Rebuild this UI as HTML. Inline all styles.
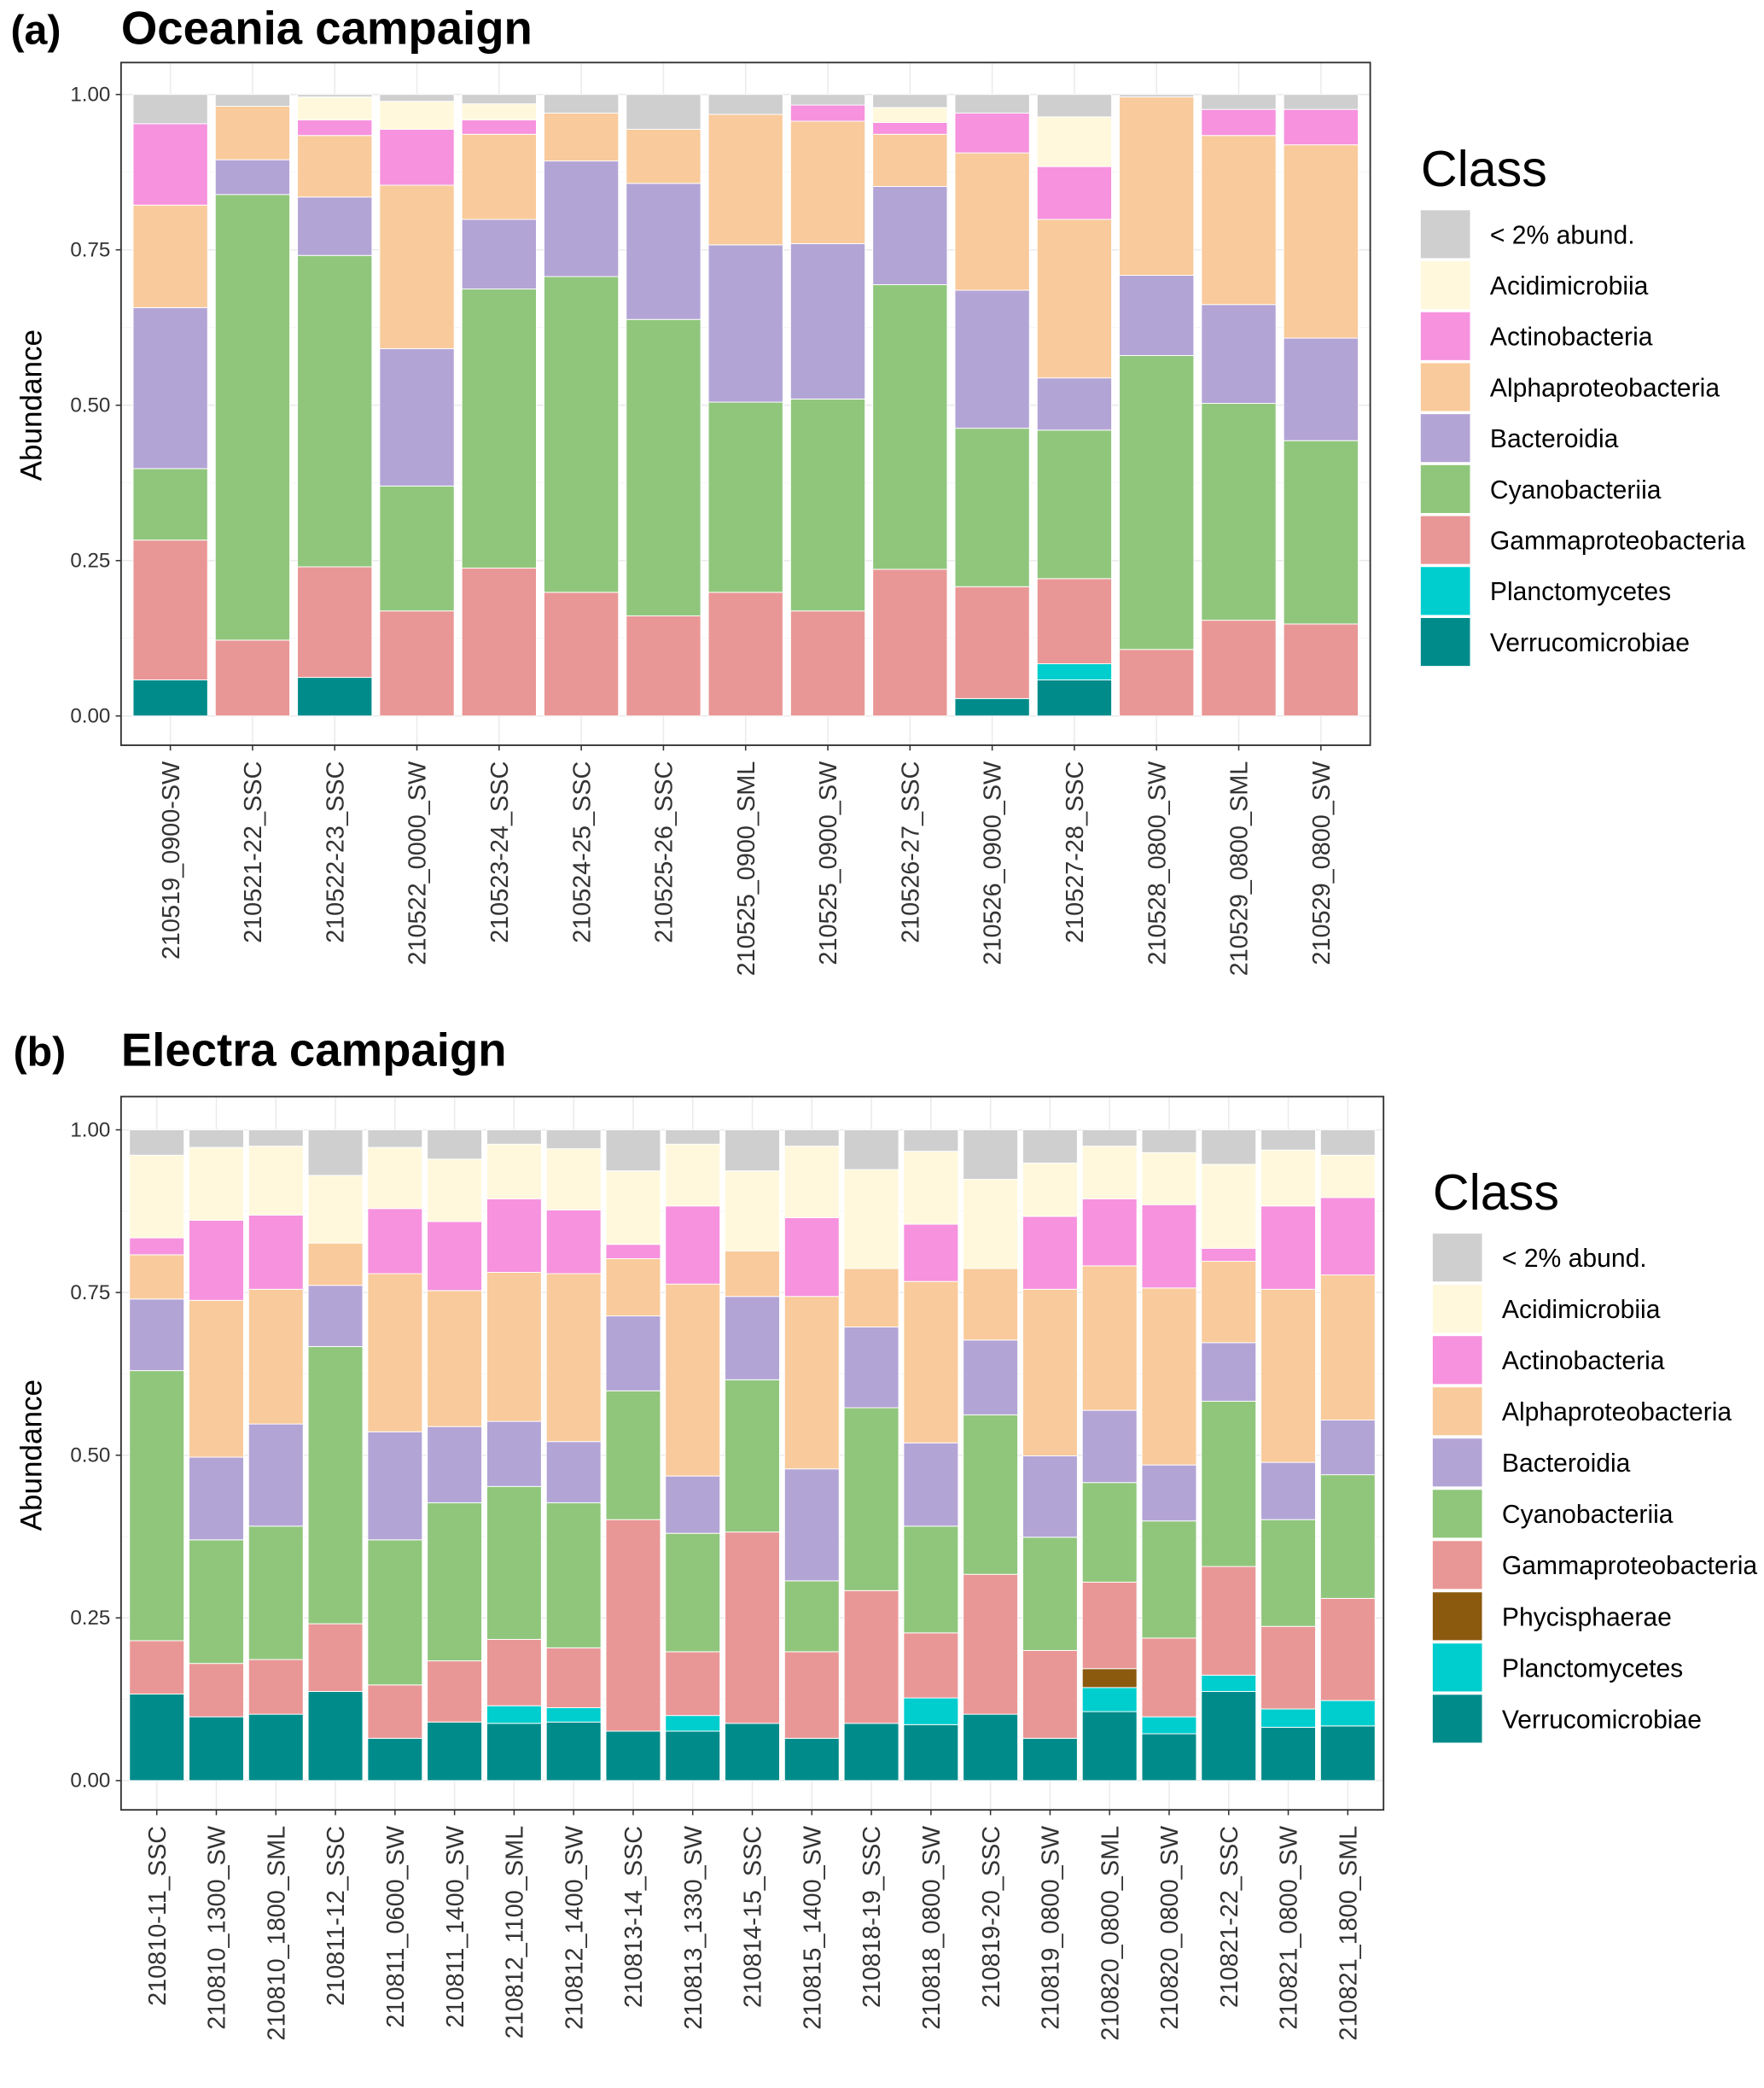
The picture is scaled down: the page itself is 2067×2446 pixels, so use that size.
<!DOCTYPE html>
<html><head><meta charset="utf-8"><style>
html,body{margin:0;padding:0;background:#fff}
svg{display:block}
text{font-family:"Liberation Sans",Arial,sans-serif}
</style></head><body>
<svg id="chart" width="2067" height="2446" viewBox="0 0 1326 1569" preserveAspectRatio="none" xmlns="http://www.w3.org/2000/svg">
<rect x="0" y="0" width="1326" height="1569" fill="#fff"/>
<text x="8" y="33" font-size="31" font-weight="bold">(a)</text>
<text x="91" y="33" font-size="35" font-weight="bold">Oceania campaign</text>
<text x="10" y="801" font-size="31" font-weight="bold">(b)</text>
<text x="91" y="801" font-size="35" font-weight="bold">Electra campaign</text>
</svg>
<script>
// ---------- Panel A data ----------
const catsA=["210519_0900-SW","210521-22_SSC","210522-23_SSC","210522_0000_SW","210523-24_SSC","210524-25_SSC","210525-26_SSC","210525_0900_SML","210525_0900_SW","210526-27_SSC","210526_0900_SW","210527-28_SSC","210528_0800_SW","210529_0800_SML","210529_0800_SW"];
const verrA=[.058,0,.062,0,0,0,0,0,0,0,.028,.058,0,0,0];
const planA=[0,0,0,0,0,0,0,0,0,0,0,.026,0,0,0];
const gammaA=[.225,.122,.178,.169,.238,.199,.161,.199,.169,.236,.18,.137,.107,.154,.148];
const cyanoA=[.115,.717,.501,.201,.449,.508,.477,.306,.341,.458,.255,.239,.473,.349,.295];
const bactA=[.259,.056,.094,.221,.112,.186,.219,.253,.25,.158,.222,.084,.129,.159,.165];
const alphaA=[.165,.086,.099,.263,.137,.077,.087,.21,.197,.084,.221,.255,.287,.272,.311];
const actA=[.131,0,.025,.09,.023,0,0,0,.026,.019,.064,.085,0,.042,.057];
const acidA=[0,0,.037,.045,.026,0,0,0,0,.024,0,.08,0,0,0];
const restA=[.047,.019,.004,.011,.015,.03,.056,.032,.017,.021,.03,.036,.004,.024,.024];
// ---------- Panel B data ----------
const catsB=["210810-11_SSC","210810_1300_SW","210810_1800_SML","210811-12_SSC","210811_0600_SW","210811_1400_SW","210812_1100_SML","210812_1400_SW","210813-14_SSC","210813_1330_SW","210814-15_SSC","210815_1400_SW","210818-19_SSC","210818_0800_SW","210819-20_SSC","210819_0800_SW","210820_0800_SML","210820_0800_SW","210821-22_SSC","210821_0800_SW","210821_1800_SML"];
const verrB=[.133,.098,.102,.137,.065,.09,.088,.09,.076,.076,.088,.065,.088,.086,.102,.065,.106,.072,.137,.082,.084];
const planB=[0,0,0,0,0,0,.027,.022,0,.024,0,0,0,.041,0,0,.037,.026,.025,.028,.039];
const phycB=[0,0,0,0,0,0,0,0,0,0,0,0,0,0,0,0,.029,0,0,0,0];
const gammaB=[.082,.082,.084,.104,.082,.094,.102,.092,.325,.098,.294,.133,.204,.1,.215,.135,.133,.121,.167,.127,.157];
const cyanoB=[.415,.19,.205,.426,.223,.243,.235,.223,.198,.182,.234,.109,.281,.164,.245,.174,.153,.18,.254,.164,.19];
const bactB=[.11,.127,.157,.094,.166,.117,.1,.094,.115,.088,.128,.172,.124,.128,.115,.125,.111,.086,.09,.088,.084];
const alphaB=[.068,.241,.207,.065,.243,.209,.229,.258,.088,.295,.07,.265,.09,.248,.11,.256,.222,.272,.125,.266,.223];
const actB=[.026,.123,.114,0,.1,.106,.113,.098,.022,.12,0,.121,0,.088,0,.112,.103,.128,.02,.128,.119];
const acidB=[.127,.112,.106,.104,.094,.096,.084,.094,.113,.095,.123,.11,.152,.112,.137,.082,.081,.08,.129,.086,.065];
const restB=[.039,.027,.025,.07,.027,.045,.022,.029,.063,.022,.063,.025,.061,.033,.076,.051,.025,.035,.053,.031,.039];

const COL={rest:"#cfcfcf",acid:"#fff8dc",act:"#f692de",alpha:"#f9ca9b",bact:"#b3a4d6",cyano:"#90c67c",gamma:"#e99796",phyc:"#8b5a0f",plan:"#00cdcd",verr:"#008b8b"};
const NS="http://www.w3.org/2000/svg";
const svg=document.getElementById('chart');
function el(tag,attrs,parent){const e=document.createElementNS(NS,tag);for(const k in attrs)e.setAttribute(k,attrs[k]);(parent||svg).appendChild(e);return e;}

function panel(p){
  const g=el('g',{});
  
  
  const y=v=>p.y0-(p.y0-p.y1)*v;
  const n=p.cats.length;
  const step=(p.px1-p.px0)/(n+0.2);
  const x=i=>p.px0+step*(i+0.6);
  [0,.25,.5,.75,1].forEach(t=>{
    const l=el('line',{x1:p.px0,x2:p.px1,y1:y(t),y2:y(t),stroke:"#ebebeb","stroke-width":1},g);
    
    
  });
  [.125,.375,.625,.875].forEach(t=>{el('line',{x1:p.px0,x2:p.px1,y1:y(t),y2:y(t),stroke:"#f4f4f4","stroke-width":0.6},g);});
  for(let i=0;i<n;i++){el('line',{x1:x(i),x2:x(i),y1:p.py0,y2:p.py1,stroke:"#ebebeb","stroke-width":1},g);}
  for(let i=0;i<n;i++){
    let cum=0;
    const bg=el('g',{},g);
    
    
    p.series.forEach(s=>{
      const v=s.vals[i];
      if(v>0){
        const r=el('rect',{x:x(i)-p.bw/2,width:p.bw,y:y(cum+v),height:y(cum)-y(cum+v),fill:COL[s.key],stroke:"#fff","stroke-width":0.6},bg);
        
        
      }
      cum+=v;
    });
  }
  const fr=el('rect',{x:p.px0,y:p.py0,width:p.px1-p.px0,height:p.py1-p.py0,fill:"none",stroke:"#333","stroke-width":1.2},g);
  
  
  ["0.00","0.25","0.50","0.75","1.00"].forEach((lab,k)=>{
    const t=k*0.25;
    el('line',{x1:p.px0-4,x2:p.px0,y1:y(t),y2:y(t),stroke:"#333","stroke-width":1},g);
    const tx=el('text',{x:p.px0-8,y:y(t)+5,"font-size":15.5,fill:"#333","text-anchor":"end"},g);
    tx.textContent=lab;
    
    
  });
  for(let i=0;i<n;i++){
    el('line',{x1:x(i),x2:x(i),y1:p.py1,y2:p.py1+4,stroke:"#333","stroke-width":1},g);
    const tx=el('text',{x:0,y:0,"font-size":18.5,fill:"#333","text-anchor":"end",transform:`translate(${x(i)+6.5},${p.py1+12}) rotate(-90)`},g);
    tx.textContent=p.cats[i];
    
    
  }
  const yl=el('text',{x:0,y:0,"font-size":22.5,fill:"#000","text-anchor":"middle",transform:`translate(${p.px0-60},${y(0.5)}) rotate(-90)`},g);
  yl.textContent="Abundance";
  
  
  const lg=el('g',{},svg);
  
  
  const tt=el('text',{x:p.lx,y:p.ly-18,"font-size":38,fill:"#000"},lg);
  tt.textContent="Class";
  
  
  p.legend.forEach((it,k)=>{
    const yy=p.ly+k*p.lstep;
    const r=el('rect',{x:p.lx,y:yy,width:37,height:36,fill:COL[it[0]]},lg);
    
    
    const t=el('text',{x:p.lx+52,y:yy+25,"font-size":19.3,fill:"#000"},lg);
    t.textContent=it[1];
    
    
  });
}
const baseLeg=[["rest","< 2% abund."],["acid","Acidimicrobiia"],["act","Actinobacteria"],["alpha","Alphaproteobacteria"],["bact","Bacteroidia"],["cyano","Cyanobacteriia"],["gamma","Gammaproteobacteria"]];
panel({id:"panel-a",cats:catsA,px0:91,px1:1030,py0:47,py1:560,y0:538,y1:71,bw:56,
  series:[{key:"verr",vals:verrA},{key:"plan",vals:planA},{key:"gamma",vals:gammaA},{key:"cyano",vals:cyanoA},{key:"bact",vals:bactA},{key:"alpha",vals:alphaA},{key:"act",vals:actA},{key:"acid",vals:acidA},{key:"rest",vals:restA}],
  lx:1068,ly:158,lstep:38.3,legend:baseLeg.concat([["plan","Planctomycetes"],["verr","Verrucomicrobiae"]])});
panel({id:"panel-b",cats:catsB,px0:91,px1:1040,py0:824,py1:1360,y0:1338,y1:849,bw:41,
  series:[{key:"verr",vals:verrB},{key:"plan",vals:planB},{key:"phyc",vals:phycB},{key:"gamma",vals:gammaB},{key:"cyano",vals:cyanoB},{key:"bact",vals:bactB},{key:"alpha",vals:alphaB},{key:"act",vals:actB},{key:"acid",vals:acidB},{key:"rest",vals:restB}],
  lx:1077,ly:927,lstep:38.5,legend:baseLeg.concat([["phyc","Phycisphaerae"],["plan","Planctomycetes"],["verr","Verrucomicrobiae"]])});
</script>
</body></html>
